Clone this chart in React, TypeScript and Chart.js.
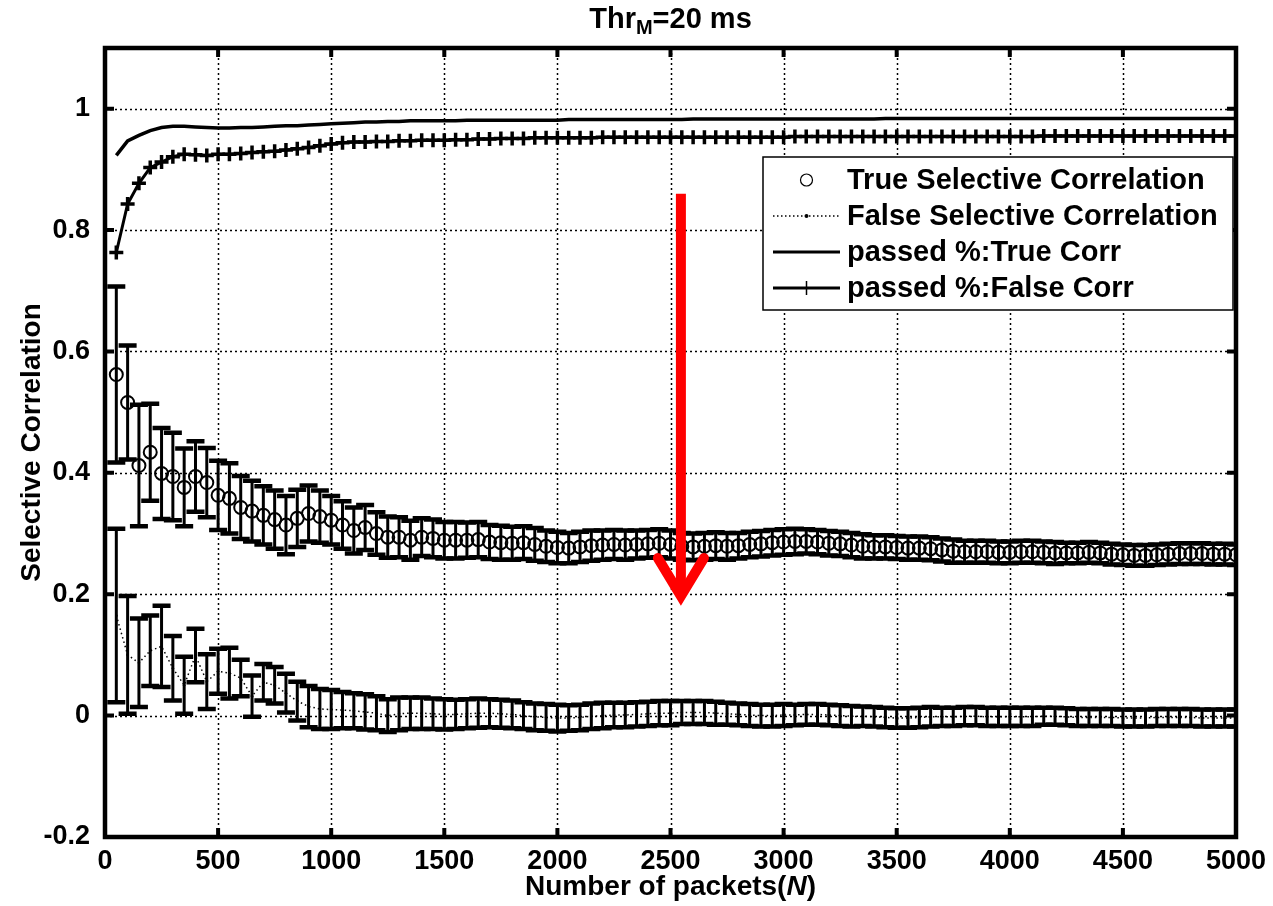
import React, { useEffect, useRef } from "react";
import { Chart, registerables } from "chart.js";
Chart.register(...registerables);

// ---------------- data ----------------
const packets = [
  50, 100, 150, 200, 250, 300, 350, 400, 450, 500,
  550, 600, 650, 700, 750, 800, 850, 900, 950, 1000,
  1050, 1100, 1150, 1200, 1250, 1300, 1350, 1400, 1450, 1500,
  1550, 1600, 1650, 1700, 1750, 1800, 1850, 1900, 1950, 2000,
  2050, 2100, 2150, 2200, 2250, 2300, 2350, 2400, 2450, 2500,
  2550, 2600, 2650, 2700, 2750, 2800, 2850, 2900, 2950, 3000,
  3050, 3100, 3150, 3200, 3250, 3300, 3350, 3400, 3450, 3500,
  3550, 3600, 3650, 3700, 3750, 3800, 3850, 3900, 3950, 4000,
  4050, 4100, 4150, 4200, 4250, 4300, 4350, 4400, 4450, 4500,
  4550, 4600, 4650, 4700, 4750, 4800, 4850, 4900, 4950, 5000,
];

const trueMean = [
  0.562, 0.516, 0.412, 0.434, 0.399, 0.394, 0.376, 0.394, 0.384, 0.363,
  0.358, 0.343, 0.337, 0.330, 0.323, 0.314, 0.325, 0.333, 0.328, 0.322,
  0.314, 0.305, 0.310, 0.300, 0.294, 0.294, 0.289, 0.294, 0.292, 0.289,
  0.289, 0.289, 0.290, 0.286, 0.285, 0.284, 0.285, 0.282, 0.279, 0.277,
  0.276, 0.278, 0.280, 0.281, 0.282, 0.281, 0.282, 0.283, 0.284, 0.282,
  0.279, 0.278, 0.279, 0.280, 0.279, 0.280, 0.282, 0.283, 0.285, 0.286,
  0.287, 0.287, 0.286, 0.284, 0.283, 0.281, 0.279, 0.278, 0.278, 0.277,
  0.276, 0.276, 0.275, 0.273, 0.271, 0.270, 0.270, 0.270, 0.269, 0.269,
  0.270, 0.270, 0.269, 0.268, 0.268, 0.268, 0.269, 0.268, 0.266, 0.265,
  0.264, 0.264, 0.265, 0.266, 0.267, 0.267, 0.267, 0.266, 0.266, 0.265,
];

const trueErr = [
  0.145, 0.094, 0.100, 0.080, 0.075, 0.072, 0.064, 0.058, 0.057, 0.057,
  0.058, 0.052, 0.050, 0.048, 0.048, 0.048, 0.047, 0.046, 0.043, 0.040,
  0.039, 0.038, 0.037, 0.035, 0.034, 0.033, 0.032, 0.031, 0.031, 0.030,
  0.030, 0.029, 0.029, 0.028, 0.028, 0.027, 0.027, 0.027, 0.026, 0.026,
  0.025, 0.025, 0.025, 0.024, 0.024, 0.024, 0.023, 0.023, 0.023, 0.023,
  0.022, 0.022, 0.022, 0.022, 0.022, 0.021, 0.021, 0.021, 0.021, 0.021,
  0.021, 0.020, 0.020, 0.020, 0.020, 0.020, 0.020, 0.019, 0.019, 0.019,
  0.019, 0.019, 0.019, 0.019, 0.019, 0.018, 0.018, 0.018, 0.018, 0.018,
  0.018, 0.018, 0.018, 0.018, 0.017, 0.017, 0.017, 0.017, 0.017, 0.017,
  0.017, 0.017, 0.017, 0.017, 0.017, 0.017, 0.017, 0.017, 0.017, 0.017,
];

const falseMean = [
  0.165, 0.100, 0.087, 0.107, 0.114, 0.078, 0.050, 0.099, 0.056, 0.073,
  0.070, 0.062, 0.032, 0.055, 0.050, 0.037, 0.024, 0.015, 0.011, 0.010,
  0.009, 0.008, 0.006, 0.004, 0.000, 0.003, 0.004, 0.004, 0.003, 0.002,
  0.002, 0.003, 0.004, 0.004, 0.003, 0.002, 0.000, -0.002, -0.003, -0.004,
  -0.004, -0.003, -0.001, 0.000, 0.001, 0.001, 0.002, 0.003, 0.004, 0.004,
  0.005, 0.005, 0.005, 0.004, 0.003, 0.002, 0.001, 0.000, 0.000, 0.001,
  0.001, 0.002, 0.002, 0.001, 0.000, -0.001, -0.001, -0.002, -0.003, -0.004,
  -0.004, -0.003, -0.002, -0.002, -0.002, -0.001, -0.001, -0.002, -0.002, -0.002,
  -0.002, -0.002, -0.001, -0.001, -0.002, -0.003, -0.003, -0.003, -0.003, -0.004,
  -0.004, -0.004, -0.003, -0.003, -0.003, -0.003, -0.004, -0.004, -0.004, -0.004,
];

const falseErr = [
  0.143, 0.097, 0.073, 0.058, 0.067, 0.053, 0.047, 0.044, 0.045, 0.037,
  0.042, 0.030, 0.034, 0.030, 0.030, 0.032, 0.032, 0.034, 0.033, 0.032,
  0.030, 0.029, 0.029, 0.028, 0.027, 0.027, 0.026, 0.026, 0.025, 0.025,
  0.024, 0.024, 0.024, 0.023, 0.023, 0.023, 0.022, 0.022, 0.022, 0.022,
  0.021, 0.021, 0.021, 0.021, 0.020, 0.020, 0.020, 0.020, 0.020, 0.020,
  0.019, 0.019, 0.019, 0.019, 0.018, 0.018, 0.018, 0.018, 0.018, 0.018,
  0.017, 0.017, 0.017, 0.017, 0.017, 0.017, 0.016, 0.016, 0.016, 0.016,
  0.016, 0.016, 0.016, 0.015, 0.015, 0.015, 0.015, 0.015, 0.015, 0.015,
  0.015, 0.015, 0.014, 0.014, 0.014, 0.014, 0.014, 0.014, 0.014, 0.014,
  0.014, 0.014, 0.014, 0.014, 0.014, 0.014, 0.014, 0.014, 0.014, 0.014,
];

const passedTrue = [
  0.923, 0.947, 0.956, 0.964, 0.969, 0.971, 0.971, 0.970, 0.969, 0.968,
  0.968, 0.969, 0.969, 0.970, 0.971, 0.972, 0.972, 0.973, 0.974, 0.975,
  0.976, 0.977, 0.978, 0.978, 0.979, 0.979, 0.980, 0.980, 0.980, 0.980,
  0.980, 0.981, 0.981, 0.981, 0.981, 0.981, 0.981, 0.981, 0.981, 0.981,
  0.982, 0.982, 0.982, 0.982, 0.982, 0.982, 0.982, 0.982, 0.982, 0.982,
  0.982, 0.983, 0.983, 0.983, 0.983, 0.983, 0.983, 0.983, 0.983, 0.983,
  0.983, 0.983, 0.983, 0.983, 0.983, 0.983, 0.983, 0.983, 0.984, 0.984,
  0.984, 0.984, 0.984, 0.984, 0.984, 0.984, 0.984, 0.984, 0.984, 0.984,
  0.984, 0.984, 0.984, 0.984, 0.984, 0.984, 0.984, 0.984, 0.984, 0.984,
  0.984, 0.984, 0.984, 0.984, 0.984, 0.984, 0.984, 0.984, 0.984, 0.984,
];

const passedFalse = [
  0.763, 0.843, 0.877, 0.903, 0.912, 0.921, 0.925, 0.924, 0.923, 0.925,
  0.925, 0.926, 0.928, 0.929, 0.930, 0.932, 0.934, 0.936, 0.939, 0.942,
  0.944, 0.945, 0.945, 0.946, 0.946, 0.947, 0.947, 0.948, 0.948, 0.948,
  0.949, 0.949, 0.950, 0.950, 0.951, 0.951, 0.951, 0.952, 0.952, 0.952,
  0.952, 0.952, 0.952, 0.953, 0.953, 0.953, 0.953, 0.953, 0.953, 0.953,
  0.953, 0.953, 0.953, 0.953, 0.953, 0.953, 0.953, 0.953, 0.953, 0.953,
  0.954, 0.954, 0.954, 0.954, 0.954, 0.954, 0.954, 0.954, 0.954, 0.954,
  0.954, 0.954, 0.954, 0.954, 0.954, 0.954, 0.954, 0.954, 0.954, 0.954,
  0.954, 0.954, 0.955, 0.955, 0.955, 0.955, 0.955, 0.955, 0.955, 0.955,
  0.955, 0.955, 0.955, 0.955, 0.955, 0.955, 0.955, 0.955, 0.955, 0.955,
];

const xTicks = [0, 500, 1000, 1500, 2000, 2500, 3000, 3500, 4000, 4500, 5000];
const yTicks = [-0.2, 0, 0.2, 0.4, 0.6, 0.8, 1];
const xRange = [0, 5000];
const yRange = [-0.2, 1.1];

const seriesLabels = [
  "True Selective Correlation",
  "False Selective Correlation",
  "passed %:True Corr",
  "passed %:False Corr",
];
const titleParts = ["Thr", "M", "=20 ms"];
const xLabelParts = ["Number of packets(", "N", ")"];
const yLabel = "Selective Correlation";
const arrowStart = { x: 2546, y: 0.86 };
const arrowEnd = { x: 2546, y: 0.197 };

// ---------------- styling ----------------
const FONT = '"Liberation Sans", Arial, Helvetica, sans-serif';
const W = 1273;
const H = 906;

const toXY = (ys: number[]) => ys.map((v, i) => ({ x: packets[i], y: v }));

const gridPlugin = {
  id: "matlabGrid",
  beforeDatasetsDraw(chart: any) {
    const { ctx, chartArea: a, scales } = chart;
    const x = scales.x;
    const y = scales.y;
    ctx.save();
    ctx.strokeStyle = "#000";
    ctx.lineWidth = 1.5;
    ctx.setLineDash([2, 3]);
    for (const v of xTicks) {
      const px = Math.round(x.getPixelForValue(v)) + 0.5;
      if (px < a.left + 3 || px > a.right - 3) continue;
      ctx.beginPath();
      ctx.moveTo(px, a.top);
      ctx.lineTo(px, a.bottom);
      ctx.stroke();
    }
    for (const v of yTicks) {
      const py = Math.round(y.getPixelForValue(v)) + 0.5;
      if (py < a.top + 3 || py > a.bottom - 3) continue;
      ctx.beginPath();
      ctx.moveTo(a.left, py);
      ctx.lineTo(a.right, py);
      ctx.stroke();
    }
    ctx.setLineDash([]);

    // error bars
    ctx.beginPath();
    ctx.rect(a.left, a.top, a.right - a.left, a.bottom - a.top);
    ctx.clip();
    chart.data.datasets.forEach((ds: any, di: number) => {
      if (!ds.errors) return;
      const meta = chart.getDatasetMeta(di);
      if (meta.hidden) return;
      ds.data.forEach((d: any, j: number) => {
        const e = ds.errors[j];
        const px = x.getPixelForValue(d.x);
        const top = y.getPixelForValue(d.y + e);
        const bot = y.getPixelForValue(d.y - e);
        ctx.strokeStyle = "#000";
        ctx.lineWidth = 3;
        ctx.beginPath();
        ctx.moveTo(px, top);
        ctx.lineTo(px, bot);
        ctx.stroke();
        ctx.lineWidth = 4.5;
        ctx.beginPath();
        ctx.moveTo(px - 9, top);
        ctx.lineTo(px + 9, top);
        ctx.moveTo(px - 9, bot);
        ctx.lineTo(px + 9, bot);
        ctx.stroke();
      });
    });
    ctx.restore();
  },
};

const framePlugin = {
  id: "matlabFrame",
  afterDatasetsDraw(chart: any) {
    const { ctx, chartArea: a, scales } = chart;
    const x = scales.x;
    const y = scales.y;
    ctx.save();
    ctx.strokeStyle = "#000";
    ctx.lineWidth = 4;
    const tl = 9;
    ctx.beginPath();
    for (const v of xTicks) {
      const px = x.getPixelForValue(v);
      ctx.moveTo(px, a.bottom);
      ctx.lineTo(px, a.bottom - tl);
      ctx.moveTo(px, a.top);
      ctx.lineTo(px, a.top + tl);
    }
    for (const v of yTicks) {
      const py = y.getPixelForValue(v);
      ctx.moveTo(a.left, py);
      ctx.lineTo(a.left + tl, py);
      ctx.moveTo(a.right, py);
      ctx.lineTo(a.right - tl, py);
    }
    ctx.stroke();
    ctx.lineWidth = 4.5;
    ctx.strokeRect(a.left, a.top, a.right - a.left, a.bottom - a.top);
    ctx.restore();
  },
};

const arrowPlugin = {
  id: "redArrow",
  afterDatasetsDraw(chart: any) {
    const { ctx, scales } = chart;
    const x0 = scales.x.getPixelForValue(arrowStart.x);
    const y0 = scales.y.getPixelForValue(arrowStart.y);
    const x1 = scales.x.getPixelForValue(arrowEnd.x);
    const y1 = scales.y.getPixelForValue(arrowEnd.y);
    ctx.save();
    ctx.strokeStyle = "#ff0000";
    ctx.lineWidth = 10;
    ctx.lineCap = "butt";
    ctx.beginPath();
    ctx.moveTo(x0, y0);
    ctx.lineTo(x1, y1 - 4);
    ctx.stroke();
    ctx.lineCap = "round";
    ctx.lineJoin = "miter";
    ctx.miterLimit = 10;
    ctx.beginPath();
    ctx.moveTo(x1 - 23, y1 - 38);
    ctx.lineTo(x1, y1);
    ctx.lineTo(x1 + 23, y1 - 38);
    ctx.stroke();
    ctx.restore();
  },
};

const textPlugin = {
  id: "matlabText",
  afterDraw(chart: any) {
    const { ctx, chartArea: a } = chart;
    const cx = (a.left + a.right) / 2;
    ctx.save();
    ctx.fillStyle = "#000";
    ctx.textBaseline = "alphabetic";
    ctx.textAlign = "left";
    // title
    const tBig = `bold 29px ${FONT}`;
    const tSmall = `bold 20px ${FONT}`;
    ctx.font = tBig;
    const w1 = ctx.measureText(titleParts[0]).width;
    const w3 = ctx.measureText(titleParts[2]).width;
    ctx.font = tSmall;
    const w2 = ctx.measureText(titleParts[1]).width;
    let tx = cx - (w1 + w2 + w3) / 2;
    const ty = 28;
    ctx.font = tBig;
    ctx.fillText(titleParts[0], tx, ty);
    tx += w1;
    ctx.font = tSmall;
    ctx.fillText(titleParts[1], tx, ty + 6);
    tx += w2;
    ctx.font = tBig;
    ctx.fillText(titleParts[2], tx, ty);

    // x label
    const big = `bold 28px ${FONT}`;
    const it = `italic bold 28px ${FONT}`;
    ctx.font = big;
    const a1 = ctx.measureText(xLabelParts[0]).width;
    const a3 = ctx.measureText(xLabelParts[2]).width;
    ctx.font = it;
    const a2 = ctx.measureText(xLabelParts[1]).width;
    let lx = cx - (a1 + a2 + a3) / 2;
    const ly = 895;
    ctx.font = big;
    ctx.fillText(xLabelParts[0], lx, ly);
    lx += a1;
    ctx.font = it;
    ctx.fillText(xLabelParts[1], lx, ly);
    lx += a2;
    ctx.font = big;
    ctx.fillText(xLabelParts[2], lx, ly);

    // y label
    ctx.save();
    ctx.translate(40, (a.top + a.bottom) / 2);
    ctx.rotate(-Math.PI / 2);
    ctx.textAlign = "center";
    ctx.font = big;
    ctx.fillText(yLabel, 0, 0);
    ctx.restore();

    // legend
    const bx = 763;
    const by = 157;
    const bw = a.right - 3 - bx;
    const bh = 153;
    ctx.fillStyle = "#fff";
    ctx.fillRect(bx, by, bw, bh);
    ctx.strokeStyle = "#000";
    ctx.lineWidth = 1.5;
    ctx.strokeRect(bx, by, bw, bh);
    const rowY = [180, 216, 252, 288];
    const sx0 = 773;
    const sx1 = 840;
    const sxm = (sx0 + sx1) / 2;
    ctx.fillStyle = "#000";
    ctx.font = `bold 29px ${FONT}`;
    ctx.textBaseline = "middle";
    chart.data.datasets.forEach((ds: any, i: number) => {
      const ry = rowY[i];
      ctx.fillStyle = "#000";
      ctx.fillText(ds.label, 847, ry + 1);
      ctx.strokeStyle = "#000";
      if (i === 0) {
        ctx.lineWidth = 1.2;
        ctx.beginPath();
        ctx.arc(sxm, ry, 6, 0, Math.PI * 2);
        ctx.stroke();
      } else if (i === 1) {
        ctx.lineWidth = 1.3;
        ctx.setLineDash([1.5, 2.5]);
        ctx.beginPath();
        ctx.moveTo(sx0, ry);
        ctx.lineTo(sx1, ry);
        ctx.stroke();
        ctx.setLineDash([]);
        ctx.beginPath();
        ctx.arc(sxm, ry, 2, 0, Math.PI * 2);
        ctx.fill();
      } else if (i === 2) {
        ctx.lineWidth = 3;
        ctx.beginPath();
        ctx.moveTo(sx0, ry);
        ctx.lineTo(sx1, ry);
        ctx.stroke();
      } else {
        ctx.lineWidth = 3;
        ctx.beginPath();
        ctx.moveTo(sx0, ry);
        ctx.lineTo(sx1, ry);
        ctx.stroke();
        ctx.lineWidth = 1.5;
        ctx.beginPath();
        ctx.moveTo(sxm, ry - 7);
        ctx.lineTo(sxm, ry + 7);
        ctx.stroke();
      }
    });
    ctx.restore();
  },
};

export default function App() {
  const ref = useRef<HTMLCanvasElement | null>(null);
  useEffect(() => {
    if (!ref.current) return;
    const chart = new Chart(ref.current, {
      type: "line",
      data: {
        datasets: [
          {
            label: seriesLabels[0],
            data: toXY(trueMean),
            errors: trueErr,
            showLine: false,
            pointStyle: "circle",
            pointRadius: 6.5,
            pointBorderWidth: 2,
            pointBorderColor: "#000",
            pointBackgroundColor: "rgba(0,0,0,0)",
            borderColor: "#000",
          } as any,
          {
            label: seriesLabels[1],
            data: toXY(falseMean),
            errors: falseErr,
            showLine: true,
            borderColor: "#000",
            borderWidth: 1.5,
            borderDash: [1.5, 3],
            pointStyle: "circle",
            pointRadius: 1.3,
            pointBorderWidth: 0,
            pointBackgroundColor: "#000",
          } as any,
          {
            label: seriesLabels[2],
            data: toXY(passedTrue),
            borderColor: "#000",
            borderWidth: 3.5,
            pointRadius: 0,
          },
          {
            label: seriesLabels[3],
            data: toXY(passedFalse),
            borderColor: "#000",
            borderWidth: 3,
            pointStyle: "cross",
            pointRadius: 7,
            pointBorderWidth: 3.5,
            pointBorderColor: "#000",
          },
        ],
      },
      options: {
        animation: false,
        responsive: false,
        maintainAspectRatio: false,
        devicePixelRatio: 1,
        events: [],
        layout: { padding: { left: 0, right: 37, top: 48, bottom: 0 } },
        plugins: {
          legend: { display: false },
          title: { display: false },
          tooltip: { enabled: false },
        },
        scales: {
          x: {
            type: "linear",
            min: xRange[0],
            max: xRange[1],
            grid: { display: false },
            border: { display: false },
            ticks: {
              color: "#000",
              font: { family: FONT, size: 27, weight: "bold" },
              padding: 0,
              maxRotation: 0,
              autoSkip: false,
              callback: (v: any) => String(v),
            },
            afterBuildTicks: (s: any) => {
              s.ticks = xTicks.map((v) => ({ value: v }));
            },
            afterFit: (s: any) => {
              s.height = 69;
            },
          },
          y: {
            type: "linear",
            min: yRange[0],
            max: yRange[1],
            grid: { display: false },
            border: { display: false },
            ticks: {
              color: "#000",
              font: { family: FONT, size: 27, weight: "bold" },
              padding: 7,
              autoSkip: false,
              callback: (v: any) => String(Math.round(Number(v) * 10) / 10),
            },
            afterBuildTicks: (s: any) => {
              s.ticks = yTicks.map((v) => ({ value: v }));
            },
            afterFit: (s: any) => {
              s.width = 105;
            },
          },
        },
      } as any,
      plugins: [gridPlugin, framePlugin, arrowPlugin, textPlugin],
    });
    return () => chart.destroy();
  }, []);

  return (
    <div
      style={{
        position: "fixed",
        left: 0,
        top: 0,
        width: W,
        height: H,
        background: "#fff",
      }}
    >
      <canvas ref={ref} width={W} height={H} style={{ width: W, height: H, display: "block" }} />
    </div>
  );
}
